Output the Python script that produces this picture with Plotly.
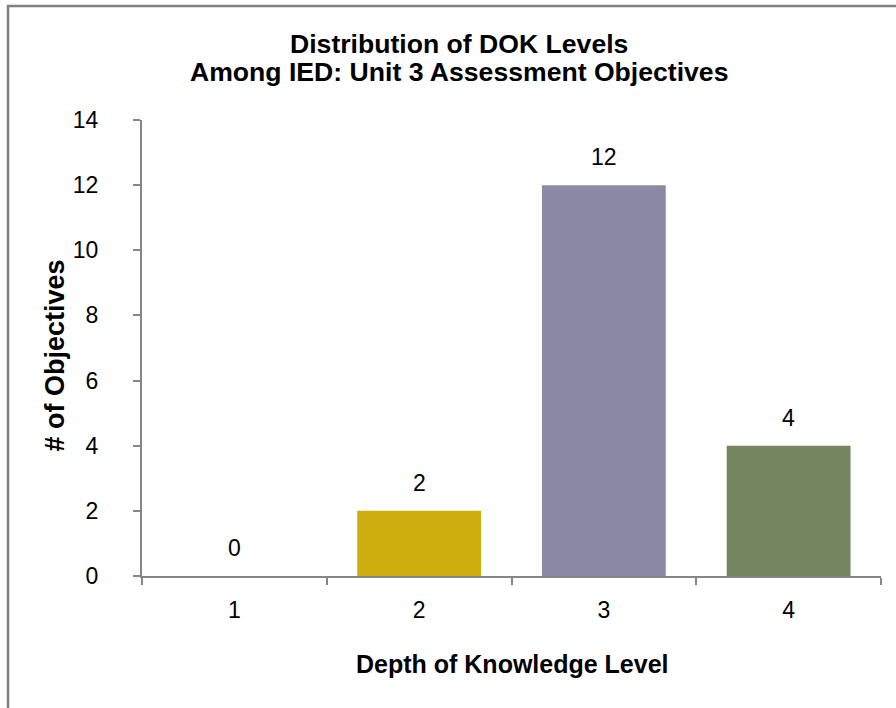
import plotly.graph_objects as go

# DOK level counts among the unit's assessment objectives
levels = ["1", "2", "3", "4"]
counts = [0, 2, 12, 4]
bar_colors = ["#4F81BD", "#CDAE0E", "#8C89A6", "#758560"]
y_ticks = [0, 2, 4, 6, 8, 10, 12, 14]

FONT = "Liberation Sans, Arial, sans-serif"
AXIS_GRAY = "#868686"

fig = go.Figure(
    go.Bar(
        x=levels,
        y=counts,
        marker=dict(color=bar_colors, line=dict(width=0)),
        width=0.67,
        hoverinfo="x+y",
    )
)

# value labels above each bar (category axis positions are indices)
for i, c in enumerate(counts):
    fig.add_annotation(
        x=i, y=c, xref="x", yref="y", text=str(c), showarrow=False,
        yanchor="middle", yshift=28, font=dict(family=FONT, size=23, color="black"),
    )

# two-line chart title
fig.add_annotation(
    x=0.4283, y=1.1667, xref="paper", yref="paper", showarrow=False,
    text="<b>Distribution of DOK Levels</b>", xanchor="center", yanchor="middle",
    font=dict(family=FONT, size=26.6, color="black"),
)
fig.add_annotation(
    x=0.4283, y=1.1042, xref="paper", yref="paper", showarrow=False,
    text="<b>Among IED: Unit 3 Assessment Objectives</b>", xanchor="center", yanchor="middle",
    font=dict(family=FONT, size=26.6, color="black"),
)

# axis titles
fig.add_annotation(
    x=0.502, y=-0.193, xref="paper", yref="paper", showarrow=False,
    text="<b>Depth of Knowledge Level</b>", xanchor="center", yanchor="middle",
    font=dict(family=FONT, size=25, color="black"),
)
fig.add_annotation(
    x=-0.1177, y=0.4836, xref="paper", yref="paper", showarrow=False,
    text="<b># of Objectives</b>", textangle=-90, xanchor="center", yanchor="middle",
    font=dict(family=FONT, size=27, color="black"),
)

# outer chart frame
fig.add_shape(
    type="rect", xref="paper", yref="paper",
    x0=-0.1813, y0=-1.0, x1=1.5, y1=1.25,
    line=dict(color="#808080", width=2.5), fillcolor="rgba(0,0,0,0)", layer="above",
)

fig.update_layout(
    width=896, height=708,
    margin=dict(l=142, r=15, t=120, b=132),
    paper_bgcolor="white", plot_bgcolor="white",
    showlegend=False,
    font=dict(family=FONT, size=23, color="black"),
)
fig.update_xaxes(
    type="category", range=[-0.5, 3.5], tickson="boundaries",
    ticks="outside", ticklen=7, tickwidth=2, tickcolor=AXIS_GRAY,
    showline=True, linecolor=AXIS_GRAY, linewidth=2,
    showgrid=False, zeroline=False, ticklabelstandoff=12,
    tickfont=dict(family=FONT, size=23, color="black"),
)
fig.update_yaxes(
    range=[0, 14], tickvals=y_ticks, ticks="outside", ticklen=7, tickwidth=2,
    tickcolor=AXIS_GRAY, showline=True, linecolor=AXIS_GRAY, linewidth=2,
    showgrid=False, zeroline=False, ticklabelstandoff=30,
    tickfont=dict(family=FONT, size=23, color="black"),
)

fig.write_html("out.html")
